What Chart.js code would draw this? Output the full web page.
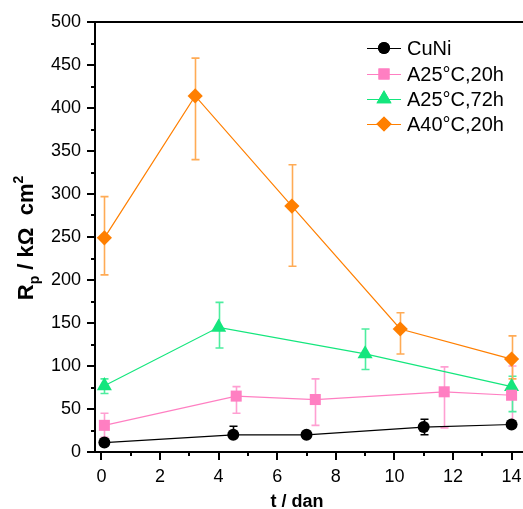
<!DOCTYPE html>
<html><head><meta charset="utf-8">
<script src="https://cdn.jsdelivr.net/npm/chart.js@4.4.1/dist/chart.umd.min.js"></script>
<style>html,body{margin:0;padding:0;background:#fff}#wrap{width:523px;height:509px;position:relative}</style>
</head><body><div id="wrap"><canvas id="c" width="523" height="509"></canvas></div>
<script>
// ---- data ----
const seriesNames = ["CuNi", "A25°C,20h", "A25°C,72h", "A40°C,20h"];

const xCuNi   = [0.1, 4.5, 7.0, 11.0, 14.0];
const yCuNi   = [11, 20, 20, 29, 32];
const upCuNi  = [2, 10, 1, 9, 2];
const dnCuNi  = [2, 2, 1, 9, 2];

const xA25_20  = [0.1, 4.6, 7.3, 11.7, 14.0];
const yA25_20  = [31, 65, 61, 70, 66];
const upA25_20 = [14, 11, 24, 29, 34];
const dnA25_20 = [14, 20, 30, 42, 34];

const xA25_72  = [0.1, 4.0, 9.0, 14.0];
const yA25_72  = [77, 145, 114, 76];
const upA25_72 = [8, 29, 29, 12];
const dnA25_72 = [9, 24, 18, 29];

const xA40_20  = [0.1, 3.2, 6.5, 10.2, 14.0];
const yA40_20  = [249, 414, 286, 143, 108];
const upA40_20 = [48, 44, 48, 19, 27];
const dnA40_20 = [43, 74, 70, 29, 23];

const xTicks = [0, 2, 4, 6, 8, 10, 12, 14];
const yTicks = [0, 50, 100, 150, 200, 250, 300, 350, 400, 450, 500];
const xMinorTicks = [1, 3, 5, 7, 9, 11, 13];
const yMinorTicks = [25, 75, 125, 175, 225, 275, 325, 375, 425, 475];

// ---- styles ----
const styles = [
  {color:'#000000', err:'#000000', style:'circle',   radius:6},
  {color:'#ff7fc2', err:'#ff9fd2', style:'rect',     radius:7.8},
  {color:'#14e67d', err:'#4ded9f', style:'triangle', radius:8.7},
  {color:'#ff7f00', err:'#ffab55', style:'rectRot',  radius:7.6}
];
const allX = [xCuNi, xA25_20, xA25_72, xA40_20];
const allY = [yCuNi, yA25_20, yA25_72, yA40_20];
const allUp = [upCuNi, upA25_20, upA25_72, upA40_20];
const allDn = [dnCuNi, dnA25_20, dnA25_72, dnA40_20];

const FONT = '"Liberation Sans", Arial, sans-serif';

const datasets = seriesNames.map((n, i) => ({
  label: n,
  data: allX[i].map((x, j) => ({x: x, y: allY[i][j]})),
  showLine: true,
  borderColor: styles[i].color,
  backgroundColor: styles[i].color,
  borderWidth: 1.2,
  pointStyle: styles[i].style,
  pointRadius: styles[i].radius,
  pointHoverRadius: styles[i].radius,
  pointBorderWidth: 0,
  pointBackgroundColor: styles[i].color,
  pointBorderColor: styles[i].color,
  clip: false
}));

const decor = {
  id: 'decor',
  beforeDatasetsDraw(chart) {
    const ctx = chart.ctx, xs = chart.scales.x, ys = chart.scales.y;
    ctx.save();
    seriesNames.forEach((n, i) => {
      ctx.strokeStyle = styles[i].err;
      ctx.lineWidth = 1.6;
      allX[i].forEach((x, j) => {
        const px = Math.round(xs.getPixelForValue(x)) + 0.5;
        const top = ys.getPixelForValue(allY[i][j] + allUp[i][j]);
        const bot = ys.getPixelForValue(allY[i][j] - allDn[i][j]);
        ctx.beginPath();
        ctx.moveTo(px, top); ctx.lineTo(px, bot);
        ctx.moveTo(px - 4, top); ctx.lineTo(px + 4, top);
        ctx.moveTo(px - 4, bot); ctx.lineTo(px + 4, bot);
        ctx.stroke();
      });
    });
    ctx.restore();
  },
  afterDraw(chart) {
    const ctx = chart.ctx, xs = chart.scales.x, ys = chart.scales.y, a = chart.chartArea;
    ctx.save();
    // top frame line
    ctx.strokeStyle = '#000'; ctx.lineWidth = 2;
    ctx.beginPath(); ctx.moveTo(a.left - 1, a.top); ctx.lineTo(chart.width + 2, a.top); ctx.stroke();
    // minor ticks
    ctx.lineWidth = 2;
    ctx.beginPath();
    xMinorTicks.forEach(v => { const p = Math.round(xs.getPixelForValue(v)); ctx.moveTo(p, a.bottom); ctx.lineTo(p, a.bottom + 4); });
    yMinorTicks.forEach(v => { const p = Math.round(ys.getPixelForValue(v)); ctx.moveTo(a.left, p); ctx.lineTo(a.left - 4, p); });
    ctx.stroke();

    // x title
    ctx.fillStyle = '#000';
    ctx.font = 'bold 18px ' + FONT;
    ctx.textAlign = 'center'; ctx.textBaseline = 'alphabetic';
    ctx.fillText('t / dan', 297, 507);

    // y title (rotated with sub/superscript)
    const parts = [
      {t:'R', f:'bold 22px ' + FONT, dy:0},
      {t:'p', f:'bold 14px ' + FONT, dy:6},
      {t:' / kΩ  cm', f:'bold 22px ' + FONT, dy:0},
      {t:'2', f:'bold 14px ' + FONT, dy:-10}
    ];
    let total = 0;
    parts.forEach(p => { ctx.font = p.f; p.w = ctx.measureText(p.t).width; total += p.w; });
    ctx.translate(33, 238);
    ctx.rotate(-Math.PI / 2);
    ctx.textAlign = 'left';
    let cx = -total / 2;
    parts.forEach(p => { ctx.font = p.f; ctx.fillText(p.t, cx, p.dy); cx += p.w; });
    ctx.restore();

    // legend
    ctx.save();
    const rows = [48, 74, 99, 124];
    seriesNames.forEach((n, i) => {
      const y = rows[i];
      ctx.strokeStyle = styles[i].color; ctx.lineWidth = 1.2;
      ctx.beginPath(); ctx.moveTo(367, y + 0.5); ctx.lineTo(401, y + 0.5); ctx.stroke();
      ctx.fillStyle = styles[i].color;
      Chart.helpers.drawPoint(ctx, {pointStyle: styles[i].style, radius: styles[i].radius, borderWidth: 0}, 384, y);
      ctx.fill();
      ctx.fillStyle = '#000';
      ctx.font = '20px ' + FONT;
      ctx.textAlign = 'left'; ctx.textBaseline = 'middle';
      ctx.fillText(n, 407, y + 1);
    });
    ctx.restore();
  }
};

new Chart(document.getElementById('c'), {
  type: 'scatter',
  data: {datasets},
  plugins: [decor],
  options: {
    responsive: false,
    animation: false,
    devicePixelRatio: 1,
    layout: {autoPadding: false, padding: {top: 22, left: 0, right: 0, bottom: 0}},
    plugins: {legend: {display: false}, tooltip: {enabled: false}, title: {display: false}},
    scales: {
      x: {
        type: 'linear', min: -0.22, max: 14.39,
        afterBuildTicks: s => { s.ticks = xTicks.map(v => ({value: v})); },
        afterFit: s => { s.height = 57; s.paddingLeft = 0; s.paddingRight = 0; },
        grid: {display: true, drawOnChartArea: false, drawTicks: true, tickLength: 8, color: '#000', lineWidth: 2},
        border: {display: true, color: '#000', width: 2},
        ticks: {color: '#000', font: {family: FONT, size: 18}, padding: 6, maxRotation: 0, autoSkip: false}
      },
      y: {
        type: 'linear', min: 0, max: 500,
        afterBuildTicks: s => { s.ticks = yTicks.map(v => ({value: v})); },
        afterFit: s => { s.width = 95; s.paddingTop = 0; s.paddingBottom = 0; },
        grid: {display: true, drawOnChartArea: false, drawTicks: true, tickLength: 8, color: '#000', lineWidth: 2},
        border: {display: true, color: '#000', width: 2},
        ticks: {color: '#000', font: {family: FONT, size: 18}, padding: 6, autoSkip: false}
      }
    }
  }
});
</script>
</body></html>
